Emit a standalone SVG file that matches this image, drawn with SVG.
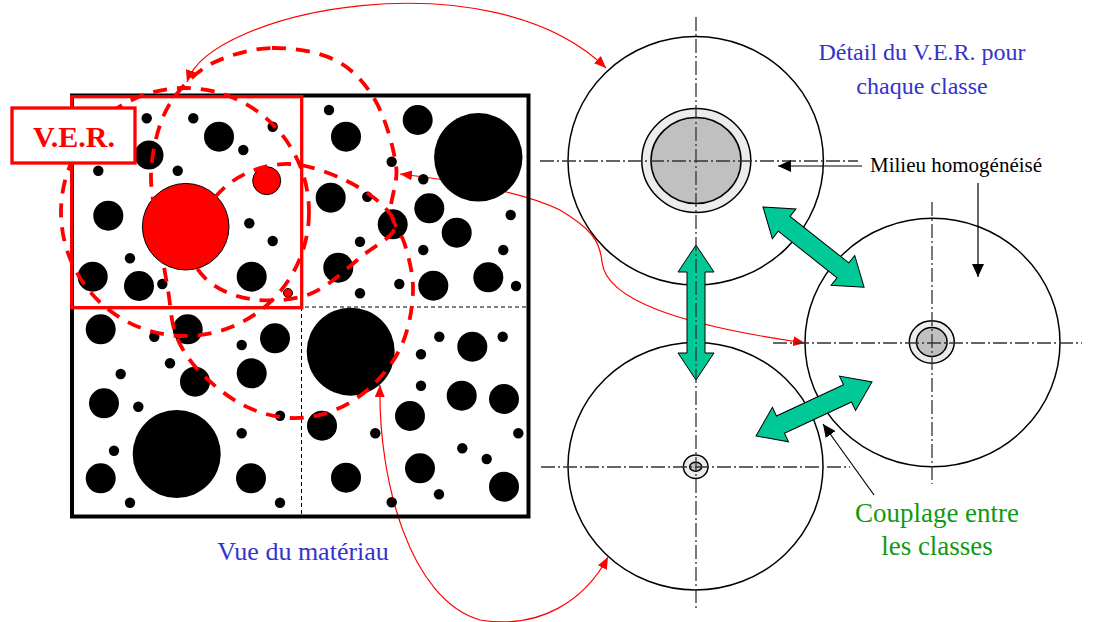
<svg xmlns="http://www.w3.org/2000/svg" width="1104" height="622" viewBox="0 0 1104 622">
<style>
.blk{fill:#000}
.red{fill:#ff0000;stroke:#000;stroke-width:1}
.thinred{fill:none;stroke:#ff0000;stroke-width:1.2}
.dashred{fill:none;stroke:#ff0000;stroke-width:3.8;stroke-dasharray:14 10}
.grid{fill:none;stroke:#000;stroke-width:1;stroke-dasharray:4 3}
.axis{fill:none;stroke:#333;stroke-width:1.3;stroke-dasharray:14 3 2 3}
.cell{fill:#fff;stroke:#000;stroke-width:1.5}
.ring{fill:#ececec;stroke:#000;stroke-width:1.5}
.core{fill:#c0c0c0;stroke:#000;stroke-width:1.5}
.green{fill:#00c896;stroke:#000;stroke-width:1}
.pointer{fill:none;stroke:#000;stroke-width:1.2}
.serif{font-family:"Liberation Serif","Times New Roman",serif}
</style>
<defs>
<marker id="ra" viewBox="0 0 12 10" refX="12" refY="5" markerWidth="12" markerHeight="10" markerUnits="userSpaceOnUse" orient="auto-start-reverse"><path d="M0,0 L12,5 L0,10 z" fill="#ff0000"/></marker>
<marker id="ba" viewBox="0 0 13 12" refX="13" refY="6" markerWidth="13" markerHeight="12" markerUnits="userSpaceOnUse" orient="auto"><path d="M0,0 L13,6 L0,12 z" fill="#000"/></marker>
</defs>
<rect x="0" y="0" width="1104" height="622" fill="#fff"/>

<g id="connectors">
<path class="thinred" d="M187,82 C210,10 490,-45 606,68" marker-start="url(#ra)" marker-end="url(#ra)"/>
<path class="thinred" d="M400,174 C450,180 520,190 560,210 C590,228 600,240 602,262 C606,300 680,325 805,343" marker-start="url(#ra)" marker-end="url(#ra)"/>
<path class="thinred" d="M380,385 C378,480 410,600 480,620 C540,630 585,600 608,557" marker-start="url(#ra)" marker-end="url(#ra)"/>
</g>

<g id="materiau">
<rect x="72" y="95.5" width="456.5" height="421" fill="none" stroke="#000" stroke-width="4"/>
<line class="grid" x1="301.5" y1="97" x2="301.5" y2="515"/>
<line class="grid" x1="74" y1="307" x2="527" y2="307"/>
<g class="blk">
<circle cx="146.7" cy="118.3" r="5.2"/><circle cx="193.3" cy="118.3" r="5.2"/><circle cx="219" cy="136.7" r="15"/><circle cx="272.7" cy="126.7" r="5.2"/><circle cx="243.3" cy="150" r="5.2"/><circle cx="149" cy="155" r="14.5"/><circle cx="98.3" cy="170.7" r="5.2"/><circle cx="177.7" cy="170.7" r="5.2"/><circle cx="108.3" cy="215.7" r="15"/><circle cx="249.3" cy="223.3" r="5.2"/><circle cx="272.7" cy="241" r="5.2"/><circle cx="130" cy="258.3" r="5.2"/><circle cx="92.7" cy="276.7" r="15"/><circle cx="139" cy="286" r="15"/><circle cx="162.3" cy="284" r="5.2"/><circle cx="251.7" cy="276.7" r="15"/>
<circle cx="329" cy="110" r="5.2"/><circle cx="346" cy="136.7" r="15"/><circle cx="417.7" cy="120" r="15"/><circle cx="478.3" cy="157.3" r="44.2"/><circle cx="391.7" cy="161.7" r="5.2"/><circle cx="423.3" cy="179.3" r="5.2"/><circle cx="330.7" cy="197.7" r="15"/><circle cx="367.3" cy="196.7" r="5.2"/><circle cx="429.3" cy="208.3" r="15"/><circle cx="392.7" cy="224.3" r="15"/><circle cx="456.7" cy="232.7" r="15"/><circle cx="510.7" cy="215" r="5.2"/><circle cx="360" cy="241.7" r="5.2"/><circle cx="423.3" cy="250" r="5.2"/><circle cx="503.3" cy="250" r="5.2"/><circle cx="338.3" cy="267.7" r="15"/><circle cx="488.3" cy="277.3" r="15"/><circle cx="433.3" cy="285.7" r="15"/><circle cx="399.3" cy="284" r="5.2"/><circle cx="360" cy="293.3" r="5.2"/><circle cx="516" cy="286" r="5.2"/>
<circle cx="100.7" cy="329.3" r="15"/><circle cx="154.3" cy="336.7" r="5.2"/><circle cx="187.7" cy="329.3" r="15"/><circle cx="241.7" cy="345" r="5.2"/><circle cx="275" cy="338.3" r="15"/><circle cx="170" cy="363.3" r="5.2"/><circle cx="120.7" cy="374" r="5.2"/><circle cx="251.7" cy="373.3" r="15"/><circle cx="195" cy="381.7" r="15"/><circle cx="104" cy="403.3" r="15"/><circle cx="138.3" cy="406.7" r="5.2"/><circle cx="280" cy="415.7" r="5.2"/><circle cx="176.7" cy="454" r="44"/><circle cx="241.7" cy="433.3" r="5.2"/><circle cx="114" cy="450.7" r="5.2"/><circle cx="100.7" cy="478.3" r="15"/><circle cx="251" cy="478.3" r="15"/><circle cx="130" cy="502.7" r="5.2"/><circle cx="280" cy="502.7" r="5.2"/>
<circle cx="350.7" cy="351.7" r="44"/><circle cx="439.3" cy="336.7" r="5.2"/><circle cx="472.3" cy="346.7" r="15"/><circle cx="502.7" cy="336.7" r="5.2"/><circle cx="421" cy="354.3" r="5.2"/><circle cx="421" cy="385.7" r="5.2"/><circle cx="461.7" cy="395.7" r="15"/><circle cx="504" cy="399" r="15"/><circle cx="410" cy="416" r="15"/><circle cx="322" cy="425.7" r="15"/><circle cx="375.3" cy="433.3" r="5.2"/><circle cx="518.3" cy="433.3" r="5.2"/><circle cx="462.3" cy="448.3" r="5.2"/><circle cx="486.7" cy="459" r="5.2"/><circle cx="420" cy="468.3" r="15"/><circle cx="346" cy="477.7" r="15"/><circle cx="504" cy="486.7" r="15"/><circle cx="439" cy="494.3" r="5.2"/><circle cx="391.7" cy="502.3" r="5.2"/>
</g>
<circle class="red" cx="185.7" cy="226.7" r="43.3"/>
<circle class="red" cx="266.7" cy="180.7" r="14"/>
<circle class="red" cx="288" cy="293" r="4.5"/>
</g>

<g id="ver">
<rect x="71.7" y="96.7" width="230" height="211" fill="none" stroke="#ff0000" stroke-width="3.3"/>
<path class="dashred" d="M272,48 C292,47.7 317.8,51.3 335,60 C352.2,68.7 364.8,82.5 375,100 C385.2,117.5 393.3,146.3 396,165 C398.7,183.7 389.5,198.7 391,212 C392.5,225.3 401.3,232 405,245 C408.7,258 413.3,273.8 413,290 C412.7,306.2 409.3,326.5 403,342 C396.7,357.5 386.3,371.7 375,383 C363.7,394.3 349.2,404.2 335,410 C320.8,415.8 305.3,418.8 290,418 C274.7,417.2 258,412.7 243,405 C228,397.3 211.2,383.7 200,372 C188.8,360.3 181.3,348.7 176,335 C170.7,321.3 171,307.5 168,290 C165,272.5 160.8,249.2 158,230 C155.2,210.8 150.5,192.5 151,175 C151.5,157.5 155.2,139.2 160,125 C164.8,110.8 170.8,100.5 180,90 C189.2,79.5 199.7,69 215,62 C230.3,55 252,48.3 272,48 Z"/>
<circle class="dashred" cx="185" cy="212" r="124"/>
<path class="dashred" d="M190,238 C194.2,222.2 213.3,195.3 230,183 C246.7,170.7 268.7,163.3 290,164 C311.3,164.7 340.5,176.8 358,187 C375.5,197.2 394.3,213.5 395,225 C395.7,236.5 376.2,244.5 362,256 C347.8,267.5 328.7,286.8 310,294 C291.3,301.2 267.5,301.7 250,299 C232.5,296.3 215,288.2 205,278 C195,267.8 185.8,253.8 190,238 Z"/>
<rect x="12" y="108" width="123" height="55" fill="#fff" stroke="#ff0000" stroke-width="3.3"/>
<text x="74" y="147" text-anchor="middle" class="serif" font-size="30" font-weight="bold" fill="#ff0000">V.E.R.</text>
</g>

<g id="classe1">
<ellipse class="cell" cx="695.7" cy="160.8" rx="127.7" ry="124.2"/>
<ellipse class="ring" cx="696.3" cy="160.5" rx="54.5" ry="52"/>
<ellipse class="core" cx="696" cy="160.5" rx="45" ry="43"/>
</g>
<g id="classe2">
<ellipse class="cell" cx="932.5" cy="342.5" rx="127.5" ry="124.2"/>
<ellipse class="ring" cx="931.8" cy="342" rx="22.5" ry="21.3"/>
<ellipse class="core" cx="931.8" cy="342" rx="15.3" ry="14.5"/>
</g>
<g id="classe3">
<ellipse class="cell" cx="695.5" cy="466.3" rx="127.5" ry="123.7"/>
<ellipse class="ring" cx="695.7" cy="466.7" rx="12.3" ry="11.7"/>
<ellipse class="core" cx="695.7" cy="466.7" rx="6" ry="4.5"/>
</g>

<g id="couplages">
<polygon class="green" transform="translate(696,245) rotate(90)" points="0,0 27,-18 27,-9 108,-9 108,-18 135,0 108,18 108,9 27,9 27,18"/>
<polygon class="green" transform="translate(763,207) rotate(38.4)" points="0,0 27,-19 27,-9.5 102,-9.5 102,-19 129,0 102,19 102,9.5 27,9.5 27,19"/>
<polygon class="green" transform="translate(756,436) rotate(-25)" points="0,0 27,-19 27,-9.5 101,-9.5 101,-19 128,0 101,19 101,9.5 27,9.5 27,19"/>
</g>

<g id="axes">
<line class="axis" x1="696" y1="17" x2="696" y2="610"/>
<line class="axis" x1="540" y1="161" x2="858" y2="161"/>
<line class="axis" x1="773" y1="343" x2="1082" y2="343"/>
<line class="axis" x1="932" y1="202" x2="932" y2="484"/>
<line class="axis" x1="541" y1="467" x2="850" y2="467"/>
</g>

<g id="pointers">
<line class="pointer" x1="862" y1="166" x2="778" y2="166" marker-end="url(#ba)"/>
<line class="pointer" x1="978" y1="183" x2="978" y2="277" marker-end="url(#ba)"/>
<line class="pointer" x1="874" y1="495" x2="823" y2="424" marker-end="url(#ba)"/>
</g>

<g id="labels" class="serif">
<text x="922" y="60" text-anchor="middle" font-size="24" fill="#3333cc">Détail du V.E.R. pour</text>
<text x="922" y="94" text-anchor="middle" font-size="24" fill="#3333cc">chaque classe</text>
<text x="870" y="172" font-size="21" fill="#000">Milieu homogénéisé</text>
<text x="937" y="522" text-anchor="middle" font-size="27" fill="#119911">Couplage entre</text>
<text x="937" y="555" text-anchor="middle" font-size="27" fill="#119911">les classes</text>
<text x="303" y="560" text-anchor="middle" font-size="26" fill="#3333cc">Vue du matériau</text>
</g>
</svg>
